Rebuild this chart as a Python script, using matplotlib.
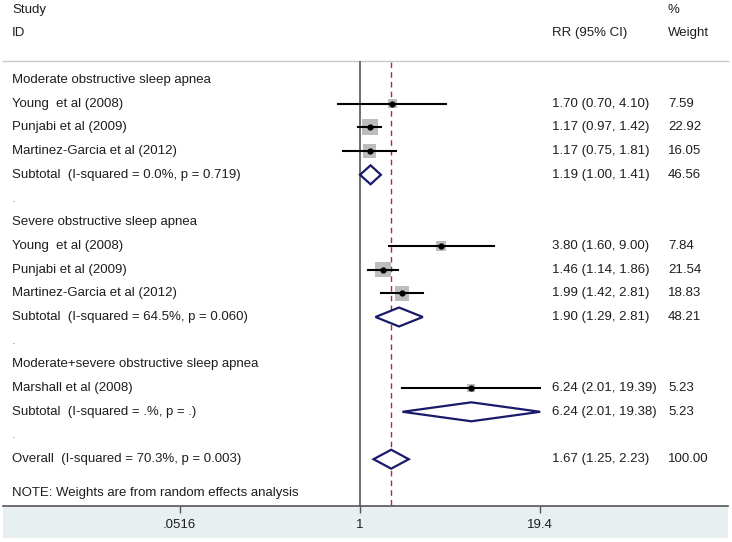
import numpy as np
import matplotlib
matplotlib.use("Agg")
import matplotlib.pyplot as plt
from matplotlib.patches import Rectangle, Polygon

plt.rcParams['font.family'] = ['Liberation Sans', 'DejaVu Sans']

# data
group_names = ["Moderate obstructive sleep apnea",
               "Severe obstructive sleep apnea",
               "Moderate+severe obstructive sleep apnea"]
study_names = ["Young  et al (2008)", "Punjabi et al (2009)", "Martinez-Garcia et al (2012)",
               "Young  et al (2008)", "Punjabi et al (2009)", "Martinez-Garcia et al (2012)",
               "Marshall et al (2008)"]
study_group = [0, 0, 0, 1, 1, 1, 2]
study_rr = [1.70, 1.17, 1.17, 3.80, 1.46, 1.99, 6.24]
study_lo = [0.70, 0.97, 0.75, 1.60, 1.14, 1.42, 2.01]
study_hi = [4.10, 1.42, 1.81, 9.00, 1.86, 2.81, 19.39]
study_weight = [7.59, 22.92, 16.05, 7.84, 21.54, 18.83, 5.23]

subtotal_labels = ["Subtotal  (I-squared = 0.0%, p = 0.719)",
                   "Subtotal  (I-squared = 64.5%, p = 0.060)",
                   "Subtotal  (I-squared = .%, p = .)"]
subtotal_rr = [1.19, 1.90, 6.24]
subtotal_lo = [1.00, 1.29, 2.01]
subtotal_hi = [1.41, 2.81, 19.38]
subtotal_weight = [46.56, 48.21, 5.23]

overall_label = "Overall  (I-squared = 70.3%, p = 0.003)"
overall_rr, overall_lo, overall_hi, overall_weight = 1.67, 1.25, 2.23, 100.00

tick_vals = [0.0516, 1, 19.4]
tick_labels = [".0516", "1", "19.4"]

note = "NOTE: Weights are from random effects analysis"

# layout (pixels of a 732x542 canvas)
W, H = 732, 542
px0, px1 = 3, 728          # plot region left/right
axis_y = 506               # axis line
band_bottom = 538
x_one = 360                # pixel of RR = 1
px_per_dec = 140.0
row0_y, row_h = 80, 23.7   # first row centre, row spacing

txt_col = '#1e1e1e'
navy = '#1a1a6b'
fs = 9.5

fig = plt.figure(figsize=(W / 100, H / 100), dpi=100)
fig.patch.set_facecolor('white')
fig.patches.append(Rectangle((px0 / W, 1 - band_bottom / H), (px1 - px0) / W,
                             (band_bottom - axis_y) / H, transform=fig.transFigure,
                             facecolor='#e8eff1', edgecolor='none', zorder=-1))

ax = fig.add_axes([px0 / W, 1 - axis_y / H, (px1 - px0) / W, axis_y / H])
ax.set_facecolor('white')
ax.set_xscale('log')
ax.set_xlim(10 ** ((px0 - x_one) / px_per_dec), 10 ** ((px1 - x_one) / px_per_dec))
def row(yp):
    return (yp - row0_y) / row_h
ax.set_ylim(row(axis_y), row(0))

for s in ['top', 'left', 'right']:
    ax.spines[s].set_visible(False)
ax.spines['bottom'].set_color('#555555')
ax.spines['bottom'].set_linewidth(1.2)
ax.set_yticks([])
ax.set_xticks(tick_vals)
ax.set_xticklabels(tick_labels)
ax.xaxis.set_minor_locator(matplotlib.ticker.NullLocator())
ax.tick_params(axis='x', direction='out', length=5, width=1, color='#555555',
               labelsize=fs, labelcolor=txt_col, pad=4)

# x positions for text columns (axes fraction)
def xfrac(xp):
    return (xp - px0) / (px1 - px0)
tr = ax.get_yaxis_transform()  # x in axes fraction, y in data
x_lab, x_rr, x_w = xfrac(12), xfrac(552), xfrac(668)

def put(x, y, s, color=txt_col):
    ax.text(x, y, s, transform=tr, va='center', fontsize=fs, color=color)

# header
put(x_lab, row(10), "Study")
put(x_lab, row(33), "ID")
put(x_rr, row(33), "RR (95% CI)")
put(x_w, row(10), "%")
put(x_w, row(33), "Weight")
ax.plot([0, 1], [row(61), row(61)], transform=tr, color='#c8c8c8', lw=1, clip_on=False)

# null line and overall line
ax.plot([1, 1], [row(62), row(axis_y)], color='#555555', lw=1.2)
ax.plot([overall_rr, overall_rr], [row(62), row(axis_y)], color='#a0303a',
        lw=1, ls=(0, (4, 3)), zorder=1)

def fmt(rr, lo, hi):
    return f"{rr:.2f} ({lo:.2f}, {hi:.2f})"

def diamond(r, rr, lo, hi):
    ax.add_patch(Polygon([(lo, r), (rr, r - 0.4), (hi, r), (rr, r + 0.4)], closed=True,
                         facecolor='white', edgecolor=navy, lw=1.6, zorder=3))

side_scale = 3.35 * 0.72  # marker side in points per sqrt(weight)
r = 0
for g, gname in enumerate(group_names):
    put(x_lab, r, gname)
    r += 1
    for i in range(len(study_names)):
        if study_group[i] != g:
            continue
        put(x_lab, r, study_names[i])
        ax.plot([study_lo[i], study_hi[i]], [r, r], color='black', lw=1.5, zorder=4)
        ax.scatter([study_rr[i]], [r], marker='s', s=(side_scale * np.sqrt(study_weight[i])) ** 2,
                   color='#bdbdbd', edgecolor='none', zorder=3)
        ax.scatter([study_rr[i]], [r], marker='o', s=12, color='black', zorder=5)
        put(x_rr, r, fmt(study_rr[i], study_lo[i], study_hi[i]))
        put(x_w, r, f"{study_weight[i]:.2f}")
        r += 1
    put(x_lab, r, subtotal_labels[g])
    diamond(r, subtotal_rr[g], subtotal_lo[g], subtotal_hi[g])
    put(x_rr, r, fmt(subtotal_rr[g], subtotal_lo[g], subtotal_hi[g]))
    put(x_w, r, f"{subtotal_weight[g]:.2f}")
    r += 1
    put(x_lab, r, ".", color='#888888')
    r += 1

put(x_lab, r, overall_label)
diamond(r, overall_rr, overall_lo, overall_hi)
put(x_rr, r, fmt(overall_rr, overall_lo, overall_hi))
put(x_w, r, f"{overall_weight:.2f}")

put(x_lab, row(493), note)

fig.savefig("out.png", dpi=100)
